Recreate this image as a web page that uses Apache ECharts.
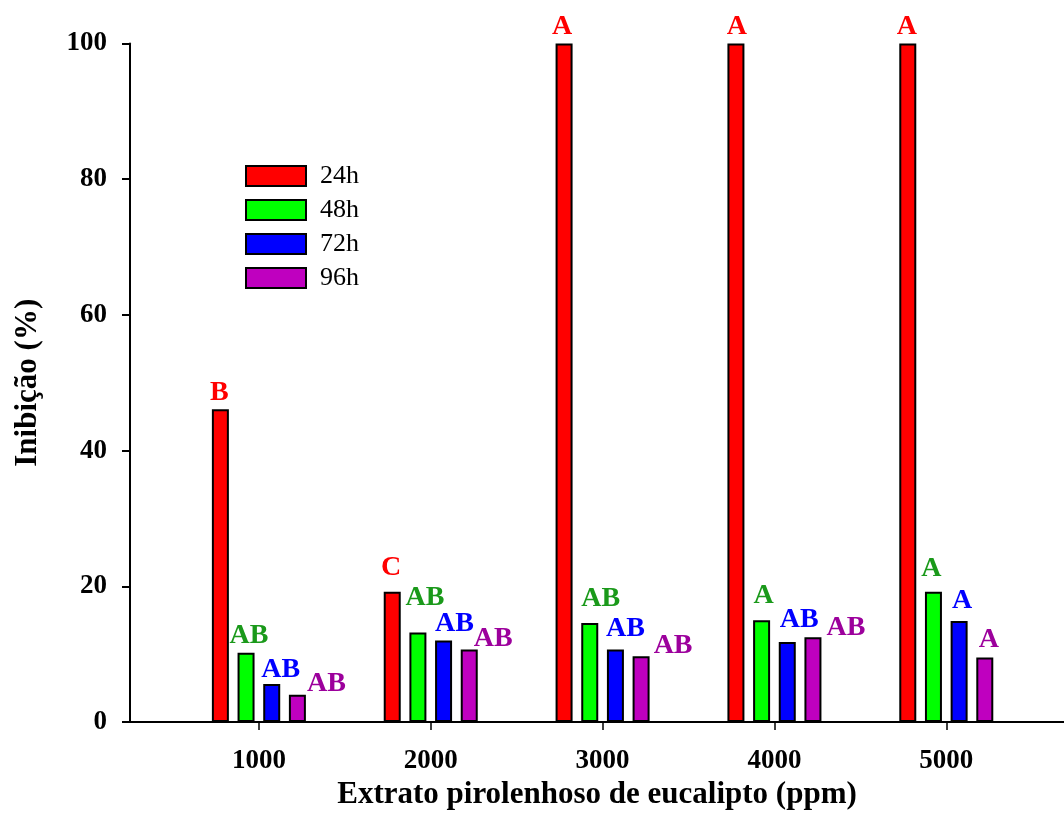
<!DOCTYPE html>
<html>
<head>
<meta charset="utf-8">
<title>Inibição (%)</title>
<script src="https://cdn.jsdelivr.net/npm/echarts@6/dist/echarts.min.js"></script>
<style>
  html, body { margin: 0; padding: 0; background: #ffffff; }
  #chart { width: 1064px; height: 833px; }
</style>
</head>
<body>
<div id="chart"></div>
<script>
// Concentrations of the pyroligneous extract (ppm)
const doses = [1000, 2000, 3000, 4000, 5000];
const seriesNames = ['24h', '48h', '72h', '96h'];

// Inhibition (%) per exposure time
const inhib24 = [46.1, 19.2, 100, 100, 100];
const inhib48 = [10.2, 13.2, 14.6, 15.0, 19.2];
const inhib72 = [5.6, 12.0, 10.7, 11.8, 14.9];
const inhib96 = [4.0, 10.7, 9.7, 12.5, 9.5];

// Letters of the mean comparison test
const letters24 = ['B', 'C', 'A', 'A', 'A'];
const letters48 = ['AB', 'AB', 'AB', 'A', 'A'];
const letters72 = ['AB', 'AB', 'AB', 'AB', 'A'];
const letters96 = ['AB', 'AB', 'AB', 'AB', 'A'];

const yTicks = [0, 20, 40, 60, 80, 100];

// Hand nudges (px) for the letters so they do not collide with neighbouring bars
const labelNudge = [
  [[-1, 3], [-1, -5], [-2, 2], [1, 2], [-1, 2]],
  [[3, 2], [7, -16], [11, -5], [2, -5], [-2, -4]],
  [[9, 5], [11, 2], [10, -2], [12, -3], [3, -1]],
  [[29, 8], [24, 8], [32, 9], [33, 10], [4, 1]]
];

const barColors = ['#ff0000', '#00ff00', '#0000ff', '#bf00bf'];
const letterColors = ['#ff0000', '#1a991a', '#0000ff', '#9c009c'];
const values = [inhib24, inhib48, inhib72, inhib96];
const letters = [letters24, letters48, letters72, letters96];

const FONT = "'Liberation Serif', 'Times New Roman', serif";

const series = seriesNames.map(function (name, s) {
  return {
    name: name,
    type: 'bar',
    barWidth: 17,
    barGap: '51%',
    itemStyle: { color: barColors[s], borderColor: '#000000', borderWidth: 2 },
    label: {
      show: true,
      position: 'top',
      distance: 5,
      fontFamily: FONT,
      fontSize: 28,
      fontWeight: 'bold',
      color: letterColors[s],
      formatter: function (p) { return letters[s][p.dataIndex]; }
    },
    data: doses.map(function (d, i) {
      return { value: [d, values[s][i]], label: { offset: labelNudge[s][i] } };
    })
  };
});

const chart = echarts.init(document.getElementById('chart'), null, { renderer: 'canvas' });
chart.setOption({
  animation: false,
  backgroundColor: '#ffffff',
  grid: { left: 130, right: 0, top: 43.5, bottom: 111, containLabel: false },
  legend: {
    orient: 'vertical',
    left: 245,
    top: 163,
    padding: 0,
    itemWidth: 60,
    itemHeight: 20,
    itemGap: 8,
    icon: 'rect',
    itemStyle: { borderColor: '#000000', borderWidth: 2 },
    textStyle: {
      fontFamily: FONT,
      fontSize: 26,
      color: '#000000',
      lineHeight: 26,
      padding: [0, 0, 0, 9]
    },
    data: seriesNames
  },
  xAxis: {
    type: 'value',
    min: 250,
    max: 5685,
    name: 'Extrato pirolenhoso de eucalipto (ppm)',
    nameLocation: 'middle',
    nameGap: 54,
    nameTextStyle: { fontFamily: FONT, fontSize: 31, fontWeight: 'bold', color: '#000000' },
    axisLine: { onZero: false, lineStyle: { color: '#000000', width: 2 } },
    axisTick: { show: true, length: 8, inside: false, customValues: doses, lineStyle: { color: '#000000', width: 1.5 } },
    axisLabel: {
      customValues: doses,
      margin: 26,
      fontFamily: FONT,
      fontSize: 27,
      fontWeight: 'bold',
      color: '#000000',
      formatter: function (v) { return String(v); }
    },
    splitLine: { show: false }
  },
  yAxis: {
    type: 'value',
    min: 0,
    max: 100,
    interval: 20,
    name: 'Inibição (%)',
    nameLocation: 'middle',
    nameGap: 87,
    nameTextStyle: { fontFamily: FONT, fontSize: 31, fontWeight: 'bold', color: '#000000' },
    axisLine: { show: true, lineStyle: { color: '#000000', width: 2 } },
    axisTick: { show: true, length: 8, inside: false, lineStyle: { color: '#000000', width: 2 } },
    axisLabel: {
      customValues: yTicks,
      margin: 23,
      fontFamily: FONT,
      fontSize: 27,
      fontWeight: 'bold',
      color: '#000000'
    },
    splitLine: { show: false }
  },
  series: series
});
</script>
</body>
</html>
